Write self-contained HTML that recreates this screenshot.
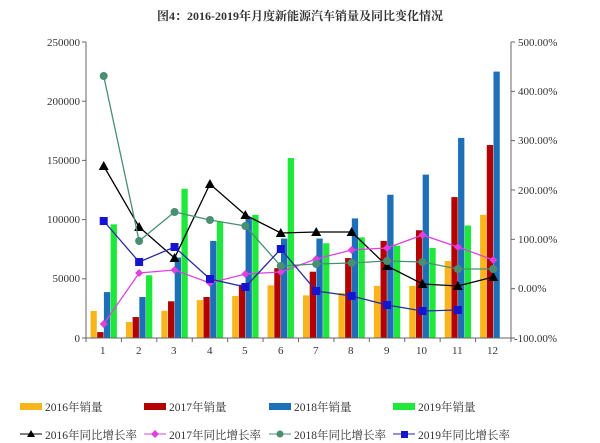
<!DOCTYPE html>
<html><head><meta charset="utf-8"><style>body{margin:0;background:#fff}svg{display:block}text{font-family:"Liberation Serif","Noto Serif CJK SC",serif;fill:#333}</style></head>
<body>
<svg id="s" width="600" height="443" viewBox="0 0 600 443">
<text x="300" y="20" text-anchor="middle" font-size="12" font-weight="bold" style="font-family:'Liberation Serif','Noto Serif CJK SC',serif" fill="#222">图4：2016-2019年月度新能源汽车销量及同比变化情况</text>
<g font-size="11" text-anchor="end">
<text x="80" y="46">250000</text><text x="80" y="105">200000</text><text x="80" y="164">150000</text><text x="80" y="223">100000</text><text x="80" y="282">50000</text><text x="80" y="342">0</text>
</g>
<g font-size="11">
<text x="518" y="46">500.00%</text><text x="518" y="95">400.00%</text><text x="518" y="144">300.00%</text><text x="518" y="194">200.00%</text><text x="518" y="243">100.00%</text><text x="518" y="292">0.00%</text><text x="514" y="342">-100.00%</text>
</g>
<g id="bars"></g>
<g id="axes" stroke="#666" stroke-width="1"></g>
<g id="lines"></g>
<g font-size="11.5" style="font-family:'Liberation Serif','Noto Sans CJK SC',sans-serif">
<rect x="20" y="403" width="22" height="7" fill="#f9b51c"/><text x="45" y="411">2016年销量</text>
<rect x="144" y="403" width="22" height="7" fill="#b30000"/><text x="169" y="411">2017年销量</text>
<rect x="269" y="403" width="22" height="7" fill="#1d6fb8"/><text x="294" y="411">2018年销量</text>
<rect x="393" y="403" width="22" height="7" fill="#1ee83c"/><text x="418" y="411">2019年销量</text>
<line x1="20" y1="434" x2="42" y2="434" stroke="#000"/><path d="M31 430 L35 437 L27 437Z" fill="#000"/><text x="45" y="439">2016年同比增长率</text>
<line x1="144" y1="434" x2="166" y2="434" stroke="#e040e0"/><path d="M155 430 L159 434 L155 438 L151 434Z" fill="#e040e0"/><text x="169" y="439">2017年同比增长率</text>
<line x1="269" y1="434" x2="291" y2="434" stroke="#4a8f72"/><circle cx="280" cy="434" r="3.5" fill="#4a8f72"/><text x="294" y="439">2018年同比增长率</text>
<line x1="393" y1="434" x2="415" y2="434" stroke="#2a2aa0"/><rect x="401" y="431" width="7" height="7" fill="#1515d0"/><text x="418" y="439">2019年同比增长率</text>
</g>
</svg>
<script>
var NS="http://www.w3.org/2000/svg";
function el(p,t,a,txt){var e=document.createElementNS(NS,t);for(var k in a)e.setAttribute(k,a[k]);if(txt)e.textContent=txt;document.getElementById(p).appendChild(e);return e;}
var L=86,R=511,B=338,T=42,w=(R-L)/12,k=(B-T)/250000;
var data=[
[22800,13500,23000,32000,35500,44500,36000,38000,44000,44000,65000,104000],
[5000,17700,31000,34600,45000,59000,56000,67500,82000,91000,119000,163000],
[38800,34600,68000,82000,101000,84000,84000,101000,121000,138000,169000,225000],
[96000,53000,126000,98000,104000,152000,80000,85000,78000,76000,95000,0]];
var cols=["#f9b51c","#b30000","#1d6fb8","#1ee83c"];
for(var i=0;i<12;i++){var x0=L+w*i+4.5;
 for(var j=0;j<4;j++){var v=data[j][i];if(!v)continue;var h=v*k;el("bars","rect",{x:x0+j*6.7,y:B-h,width:6.3,height:h,fill:cols[j]});}
}
el("axes","line",{x1:L,y1:T,x2:L,y2:B});el("axes","line",{x1:R,y1:T,x2:R,y2:B});el("axes","line",{x1:L,y1:B,x2:R,y2:B});
for(var t=0;t<=5;t++){var y=B-t*(B-T)/5;el("axes","line",{x1:L-4,y1:y,x2:L,y2:y});}
for(var t=0;t<=6;t++){var y=B-t*(B-T)/6;el("axes","line",{x1:R,y1:y,x2:R+4,y2:y});}
for(var i=0;i<=12;i++){var x=L+w*i;el("axes","line",{x1:x,y1:B,x2:x,y2:B+4});}
var lines=[
{c:"#000",m:"tri",y:[166,227,258,184,215,233,232,232,266,284,286,277]},
{c:"#e040e0",m:"dia",y:[324,273,270,283,274,272,259,250,248,235,247,260]},
{c:"#4a8f72",m:"cir",y:[76,241,212,220,226,266,264,263,261,262,269,269]},
{c:"#2a2aa0",mc:"#1515d0",m:"sq",y:[221,262,247,279,287,249,291,296,305,311,310]}];
lines.forEach(function(s){var pts=s.y.map(function(y,i){return (L+w*(i+.5))+","+y;}).join(" ");
 el("lines","polyline",{points:pts,fill:"none",stroke:s.c,"stroke-width":1.3});
 s.y.forEach(function(y,i){var x=L+w*(i+.5),c=s.mc||s.c;
  if(s.m=="tri")el("lines","path",{d:"M"+x+" "+(y-5)+" L"+(x+5)+" "+(y+4)+" L"+(x-5)+" "+(y+4)+"Z",fill:c});
  else if(s.m=="dia")el("lines","path",{d:"M"+x+" "+(y-4)+" L"+(x+4)+" "+y+" L"+x+" "+(y+4)+" L"+(x-4)+" "+y+"Z",fill:c});
  else if(s.m=="cir")el("lines","circle",{cx:x,cy:y,r:4,fill:c});
  else el("lines","rect",{x:x-4,y:y-4,width:8,height:8,fill:c});
 });
});
</script>
<div style="position:absolute;left:0;top:345px;width:600px;font:11px 'Liberation Serif',serif;color:#333">
<span style="position:absolute;left:100px">1</span><span style="position:absolute;left:136px">2</span><span style="position:absolute;left:171px">3</span><span style="position:absolute;left:207px">4</span><span style="position:absolute;left:242px">5</span><span style="position:absolute;left:278px">6</span><span style="position:absolute;left:313px">7</span><span style="position:absolute;left:348px">8</span><span style="position:absolute;left:384px">9</span><span style="position:absolute;left:416px">10</span><span style="position:absolute;left:452px">11</span><span style="position:absolute;left:487px">12</span>
</div>
</body></html>
